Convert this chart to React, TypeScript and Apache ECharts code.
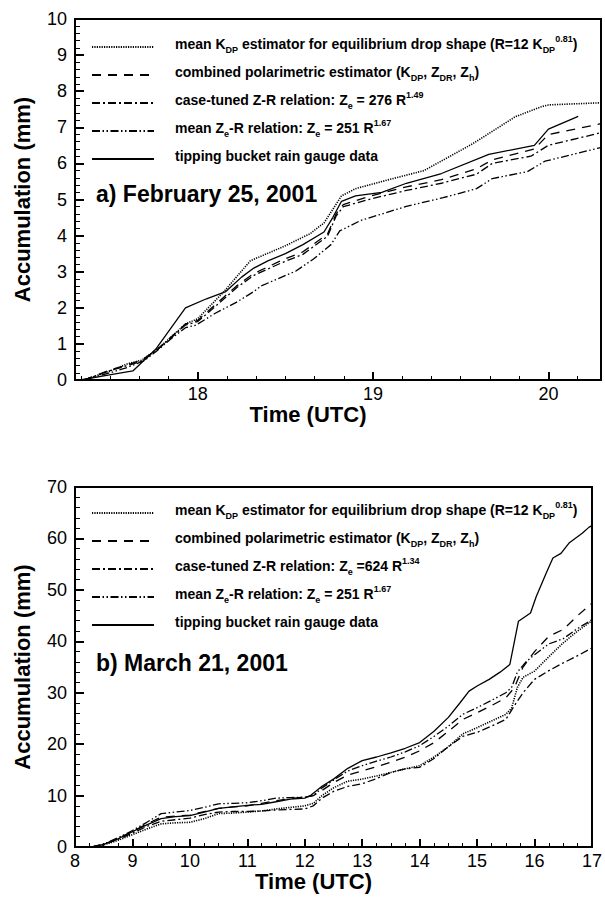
import React, { useEffect, useRef } from "react";
import * as echarts from "echarts";

// ---------- Panel (a): February 25, 2001 — [time (UTC h), accumulation (mm)] ----------
const kdpA: [number, number][] = [
  [17.35, 0], [17.5, 0.25], [17.6, 0.45], [17.68, 0.55], [17.77, 0.85], [17.85, 1.2], [17.93, 1.55],
  [18.0, 1.7], [18.08, 2.1], [18.15, 2.45], [18.22, 2.85], [18.3, 3.3], [18.37, 3.45], [18.42, 3.55],
  [18.5, 3.72], [18.64, 4.05], [18.72, 4.35], [18.78, 4.8], [18.82, 5.1], [18.9, 5.3], [19.09, 5.55],
  [19.29, 5.8], [19.44, 6.2], [19.57, 6.55], [19.7, 6.95], [19.81, 7.29], [19.96, 7.57], [20.0, 7.62], [20.3, 7.68],
];
const combA: [number, number][] = [
  [17.35, 0], [17.5, 0.28], [17.6, 0.42], [17.68, 0.55], [17.77, 0.85], [17.85, 1.2], [17.93, 1.55],
  [18.0, 1.65], [18.08, 2.0], [18.15, 2.3], [18.22, 2.6], [18.32, 2.95], [18.48, 3.32], [18.6, 3.55],
  [18.74, 4.04], [18.79, 4.61], [18.83, 4.86], [18.99, 5.1], [19.19, 5.35], [19.39, 5.55], [19.59, 5.85],
  [19.68, 6.1], [19.92, 6.4], [20.0, 6.8], [20.1, 6.9], [20.3, 7.1],
];
const caseA: [number, number][] = [
  [17.35, 0], [17.5, 0.26], [17.6, 0.4], [17.68, 0.52], [17.77, 0.84], [17.85, 1.18], [17.93, 1.52],
  [18.0, 1.62], [18.08, 1.95], [18.15, 2.25], [18.22, 2.55], [18.32, 2.9], [18.48, 3.25], [18.6, 3.48],
  [18.74, 3.98], [18.79, 4.55], [18.83, 4.8], [18.99, 5.02], [19.19, 5.25], [19.39, 5.45], [19.59, 5.7],
  [19.68, 6.0], [19.9, 6.2], [20.0, 6.5], [20.3, 6.85],
];
const meanA: [number, number][] = [
  [17.35, 0], [17.5, 0.2], [17.6, 0.35], [17.7, 0.55], [17.77, 0.82], [17.85, 1.15], [17.93, 1.45],
  [17.99, 1.52], [18.1, 1.85], [18.22, 2.15], [18.32, 2.45], [18.36, 2.6], [18.56, 3.02], [18.66, 3.35],
  [18.76, 3.75], [18.81, 4.13], [18.93, 4.42], [19.19, 4.81], [19.4, 5.05], [19.59, 5.3], [19.68, 5.58],
  [19.88, 5.77], [19.98, 6.06], [20.3, 6.44],
];
const gaugeA: [number, number][] = [
  [17.33, 0], [17.48, 0.13], [17.63, 0.25], [17.76, 0.85], [17.93, 2.0], [18.05, 2.25], [18.16, 2.45],
  [18.25, 2.85], [18.32, 3.1], [18.4, 3.3], [18.5, 3.5], [18.6, 3.75], [18.72, 4.1], [18.77, 4.5],
  [18.82, 4.95], [18.9, 5.1], [19.05, 5.2], [19.19, 5.45], [19.39, 5.72], [19.66, 6.25], [19.92, 6.5],
  [20.0, 6.95], [20.17, 7.3],
];

// ---------- Panel (b): March 21, 2001 ----------
const kdpB: [number, number][] = [
  [8.3, 0], [8.5, 0.4], [8.75, 1.3], [9, 2.4], [9.25, 3.5], [9.5, 4.5], [9.75, 4.7], [10, 4.8], [10.25, 5.5],
  [10.5, 6.5], [10.75, 6.6], [11, 6.8], [11.25, 7.0], [11.5, 7.4], [11.75, 7.7], [12, 8.0], [12.15, 8.5],
  [12.3, 10], [12.5, 11.5], [12.75, 12.8], [13, 13.2], [13.25, 13.8], [13.5, 14.5], [13.75, 15.2], [14, 15.8],
  [14.25, 17.5], [14.5, 19.5], [14.75, 22], [15, 23.2], [15.25, 24.5], [15.5, 25.8], [15.6, 27], [15.7, 31],
  [15.8, 33], [16, 34.2], [16.25, 37], [16.5, 39.7], [16.75, 42], [17, 44],
];
const combB: [number, number][] = [
  [8.3, 0], [8.5, 0.5], [8.75, 1.7], [9, 3.0], [9.25, 4.5], [9.5, 5.8], [9.75, 6.0], [10, 6.2], [10.25, 6.9],
  [10.5, 7.5], [10.75, 7.8], [11, 8.0], [11.25, 8.5], [11.5, 9.0], [11.75, 9.4], [12, 9.7], [12.15, 10],
  [12.3, 11], [12.5, 12.5], [12.75, 14], [13, 14.8], [13.25, 15.6], [13.5, 16.5], [13.75, 17.5], [14, 18.7],
  [14.25, 20.3], [14.5, 22.5], [14.75, 24.8], [15, 26.1], [15.25, 27.5], [15.5, 29], [15.65, 31], [15.8, 35],
  [16, 38], [16.25, 41], [16.5, 42.3], [16.75, 45], [17, 47.4],
];
const caseB: [number, number][] = [
  [8.3, 0], [8.5, 0.5], [8.75, 1.5], [9, 2.7], [9.25, 4.0], [9.5, 5.0], [9.75, 5.3], [10, 5.6], [10.25, 6.3],
  [10.5, 6.8], [10.75, 6.9], [11, 6.9], [11.25, 7.0], [11.5, 7.2], [11.75, 7.3], [12, 7.4], [12.15, 8],
  [12.3, 9.5], [12.5, 10.8], [12.75, 11.8], [13, 12.3], [13.25, 13.3], [13.5, 14.5], [13.75, 15.2], [14, 15.5],
  [14.25, 17.2], [14.5, 19.5], [14.75, 21.5], [15, 22.3], [15.25, 23.5], [15.5, 24.8], [15.65, 27.5], [15.8, 30],
  [16, 32.6], [16.25, 34.3], [16.5, 35.8], [16.75, 37.2], [17, 38.7],
];
const meanB: [number, number][] = [
  [8.3, 0], [8.5, 0.6], [8.75, 1.8], [9, 3.2], [9.25, 4.8], [9.5, 6.5], [9.75, 6.8], [10, 7.1], [10.25, 7.7],
  [10.5, 8.4], [10.75, 8.5], [11, 8.6], [11.25, 9.0], [11.5, 9.5], [11.75, 9.6], [12, 9.7], [12.15, 10.0],
  [12.3, 11.5], [12.5, 13.0], [12.75, 14.8], [13, 15.8], [13.25, 16.7], [13.5, 17.5], [13.75, 18.5], [14, 19.7],
  [14.25, 21.5], [14.5, 23.5], [14.75, 25.8], [15, 27.1], [15.25, 28.5], [15.5, 30], [15.6, 31], [15.7, 34],
  [15.85, 36], [16, 37.4], [16.25, 39.5], [16.5, 40.5], [16.75, 42.5], [17, 44.2],
];
const gaugeB: [number, number][] = [
  [8.3, 0], [8.5, 0.5], [8.75, 1.6], [9.0, 3.0], [9.25, 4.3], [9.5, 5.5], [9.75, 5.9], [10, 6.1], [10.25, 6.8],
  [10.5, 7.5], [10.75, 7.8], [11, 8.1], [11.25, 8.3], [11.5, 8.8], [11.75, 9.3], [12, 9.5], [12.1, 10.0],
  [12.3, 11.8], [12.5, 13.2], [12.75, 15.3], [13, 16.8], [13.25, 17.5], [13.5, 18.3], [13.75, 19.2], [14, 20.3],
  [14.25, 22.5], [14.5, 25.2], [14.7, 28], [14.86, 30.3], [15.0, 31.3], [15.21, 32.6], [15.4, 34], [15.57, 35.5],
  [15.65, 40], [15.72, 43.9], [15.93, 45.5], [16.03, 48.7], [16.2, 53.2], [16.32, 56.2], [16.46, 57.1],
  [16.6, 59.1], [16.83, 61.0], [16.95, 62.2], [17, 62.5],
];

// ---------- axes ----------
const xRangeA = [17.3, 20.3];
const xMajorA = [18, 19, 20];
const xRangeB = [8, 17];
const yRangeA = [0, 10];
const yRangeB = [0, 70];

// ---------- legend texts ----------
const legendA: Record<string, string> = {
  kdpA: "mean K{sub|DP} estimator for equilibrium drop shape (R=12 K{sub|DP}{sup|0.81})",
  combA: "combined polarimetric estimator (K{sub|DP}, Z{sub|DR}, Z{sub|h})",
  caseA: "case-tuned Z-R relation: Z{sub|e} = 276 R{sup|1.49}",
  meanA: "mean Z{sub|e}-R relation: Z{sub|e} = 251 R{sup|1.67}",
  gaugeA: "tipping bucket rain gauge data",
};
const legendB: Record<string, string> = {
  kdpB: "mean K{sub|DP} estimator for equilibrium drop shape (R=12 K{sub|DP}{sup|0.81})",
  combB: "combined polarimetric estimator (K{sub|DP}, Z{sub|DR}, Z{sub|h})",
  caseB: "case-tuned Z-R relation: Z{sub|e} =624 R{sup|1.34}",
  meanB: "mean Z{sub|e}-R relation: Z{sub|e} = 251 R{sup|1.67}",
  gaugeB: "tipping bucket rain gauge data",
};

const FONT = "'Liberation Sans', Arial, Helvetica, sans-serif";

const styles: Record<string, { type: any; width: number }> = {
  kdp: { type: [1.2, 1.2], width: 1.6 },
  comb: { type: [9, 7], width: 1.3 },
  case: { type: [8, 3, 2, 3], width: 1.3 },
  mean: { type: [8, 2.5, 1.5, 2.5, 1.5, 2.5], width: 1.3 },
  gauge: { type: "solid", width: 1.3 },
};

function minorValues(lo: number, hi: number, step: number, majors: number[]) {
  const out: number[] = [];
  const start = Math.ceil(lo / step - 1e-9);
  for (let k = start; k * step <= hi + 1e-9; k++) {
    const v = +(k * step).toFixed(4);
    if (!majors.some((m) => Math.abs(m - v) < 1e-6)) out.push(v);
  }
  return out;
}

export default function App() {
  const ref = useRef<HTMLDivElement>(null);
  useEffect(() => {
    document.body.style.margin = "0";
    if (!ref.current) return;
    const chart = echarts.init(ref.current, null, { renderer: "svg" });

    const richLegend = {
      fontFamily: FONT,
      fontSize: 14,
      fontWeight: "bold",
      color: "#000",
      lineHeight: 20,
      padding: [0, 0, 6, 16],
      rich: {
        sub: { fontFamily: FONT, fontSize: 9, fontWeight: "bold", lineHeight: 12, verticalAlign: "bottom", color: "#000" },
        sup: { fontFamily: FONT, fontSize: 9, fontWeight: "bold", lineHeight: 12, verticalAlign: "top", color: "#000" },
      },
    };

    const axisLabel = { fontFamily: FONT, fontSize: 18, color: "#000" };
    const nameStyle = { fontFamily: FONT, fontSize: 22, fontWeight: "bold", color: "#000" };

    const mkSeries = (name: string, key: string, data: [number, number][], idx: number) => ({
      name,
      type: "line",
      xAxisIndex: idx === 0 ? 0 : 2,
      yAxisIndex: idx,
      data,
      symbol: "none",
      showSymbol: false,
      lineStyle: { color: "#000", width: styles[key].width, type: styles[key].type },
      itemStyle: { color: "#000" },
      emphasis: { disabled: true },
    });

    const legendCommon = {
      orient: "vertical", left: 86, itemWidth: 62, itemHeight: 14, itemGap: 2,
      selectedMode: false, textStyle: richLegend, itemStyle: { opacity: 0, borderWidth: 0 },
    };

    const option: any = {
      animation: false,
      grid: [
        { left: 75, top: 19, width: 526, height: 361, show: true, borderColor: "#000", borderWidth: 2, containLabel: false },
        { left: 75, top: 487, width: 525, height: 360, show: true, borderColor: "#000", borderWidth: 2, containLabel: false },
      ],
      xAxis: [
        {
          gridIndex: 0, type: "value", min: xRangeA[0], max: xRangeA[1], position: "bottom",
          axisLine: { lineStyle: { color: "#000", width: 2 } },
          axisTick: { inside: true, length: 8, lineStyle: { color: "#000", width: 2 }, customValues: xMajorA },
          axisLabel: { ...axisLabel, margin: 5, customValues: xMajorA },
          splitLine: { show: false },
          name: "Time (UTC)", nameLocation: "middle", nameGap: 10, nameTextStyle: { ...nameStyle, padding: [0, 60, 0, 0] },
        },
        {
          gridIndex: 0, type: "value", min: xRangeA[0], max: xRangeA[1], position: "bottom",
          axisLine: { show: false },
          axisTick: { inside: true, length: 4, lineStyle: { color: "#000", width: 1 }, customValues: minorValues(xRangeA[0], xRangeA[1], 1 / 6, xMajorA) },
          axisLabel: { show: false },
          splitLine: { show: false },
        },
        {
          gridIndex: 1, type: "value", min: xRangeB[0], max: xRangeB[1], interval: 1, position: "bottom",
          axisLine: { lineStyle: { color: "#000", width: 2 } },
          axisTick: { inside: true, length: 8, lineStyle: { color: "#000", width: 2 } },
          minorTick: { show: true, splitNumber: 4, length: 4, lineStyle: { color: "#000", width: 1 } },
          axisLabel: { ...axisLabel, margin: 5 },
          splitLine: { show: false },
          name: "Time (UTC)", nameLocation: "middle", nameGap: 10, nameTextStyle: { ...nameStyle, padding: [0, 40, 0, 0] },
        },
      ],
      yAxis: [
        {
          gridIndex: 0, type: "value", min: yRangeA[0], max: yRangeA[1], interval: 1,
          axisLine: { lineStyle: { color: "#000", width: 2 } },
          axisTick: { inside: true, length: 9, lineStyle: { color: "#000", width: 2 } },
          minorTick: { show: true, splitNumber: 5, length: 5, lineStyle: { color: "#000", width: 1 } },
          axisLabel: { ...axisLabel, margin: 8 },
          splitLine: { show: false },
          name: "Accumulation (mm)", nameLocation: "middle", nameGap: 42, nameRotate: 90, nameTextStyle: nameStyle,
        },
        {
          gridIndex: 1, type: "value", min: yRangeB[0], max: yRangeB[1], interval: 10,
          axisLine: { lineStyle: { color: "#000", width: 2 } },
          axisTick: { inside: true, length: 9, lineStyle: { color: "#000", width: 2 } },
          minorTick: { show: true, splitNumber: 5, length: 5, lineStyle: { color: "#000", width: 1 } },
          axisLabel: { ...axisLabel, margin: 8 },
          splitLine: { show: false },
          name: "Accumulation (mm)", nameLocation: "middle", nameGap: 42, nameRotate: 90, nameTextStyle: nameStyle,
        },
      ],
      legend: [
        { ...legendCommon, data: Object.keys(legendA), top: 29, formatter: (n: string) => legendA[n] },
        { ...legendCommon, data: Object.keys(legendB), top: 495, formatter: (n: string) => legendB[n] },
      ],
      graphic: [
        { type: "text", left: 96, top: 182, style: { text: "a) February 25, 2001", fontFamily: FONT, fontSize: 23, fontWeight: "bold", fill: "#000" } },
        { type: "text", left: 96, top: 651, style: { text: "b) March 21, 2001", fontFamily: FONT, fontSize: 23, fontWeight: "bold", fill: "#000" } },
      ],
      series: [
        mkSeries("kdpA", "kdp", kdpA, 0),
        mkSeries("combA", "comb", combA, 0),
        mkSeries("caseA", "case", caseA, 0),
        mkSeries("meanA", "mean", meanA, 0),
        mkSeries("gaugeA", "gauge", gaugeA, 0),
        mkSeries("kdpB", "kdp", kdpB, 1),
        mkSeries("combB", "comb", combB, 1),
        mkSeries("caseB", "case", caseB, 1),
        mkSeries("meanB", "mean", meanB, 1),
        mkSeries("gaugeB", "gauge", gaugeB, 1),
      ],
    };
    chart.setOption(option);
    return () => chart.dispose();
  }, []);
  return <div ref={ref} style={{ width: 605, height: 897 }} />;
}
